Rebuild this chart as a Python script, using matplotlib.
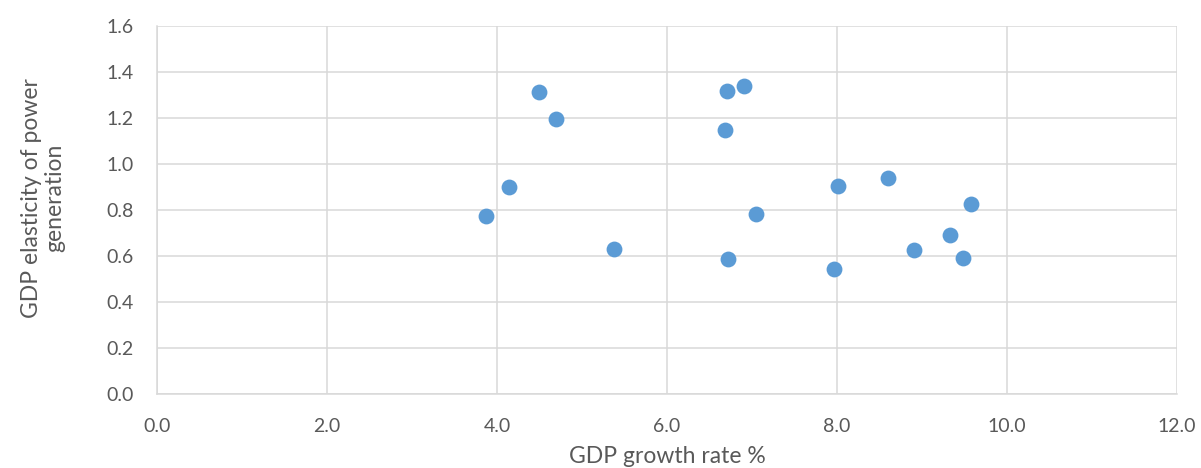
import matplotlib
matplotlib.use("Agg")
import matplotlib.pyplot as plt

gdp_growth = [3.87, 4.14, 4.49, 4.69, 5.38, 6.70, 6.90, 6.68, 7.05, 6.72,
              8.01, 8.60, 9.58, 9.33, 8.91, 9.48, 7.97]
elasticity = [0.776, 0.900, 1.315, 1.197, 0.632, 1.316, 1.338, 1.147, 0.784, 0.589,
              0.903, 0.937, 0.825, 0.691, 0.628, 0.591, 0.542]
x_ticks = [0, 2, 4, 6, 8, 10, 12]
y_ticks = [0.0, 0.2, 0.4, 0.6, 0.8, 1.0, 1.2, 1.4, 1.6]

plt.rcParams['font.family'] = ['Lato', 'DejaVu Sans']

W, H = 1201, 468
fig = plt.figure(figsize=(W / 100, H / 100), dpi=100)
left, right, top, bottom = 157, 1177, 26, 394
ax = fig.add_axes([left / W, (H - bottom) / H, (right - left) / W, (bottom - top) / H])

grid_c = '#D9D9D9'
ax.set_xlim(0, 12)
ax.set_ylim(0, 1.6)
ax.set_xticks(x_ticks)
ax.set_yticks(y_ticks)
ax.set_xticklabels([f"{v:.1f}" for v in x_ticks])
ax.set_yticklabels([f"{v:.1f}" for v in y_ticks])
ax.grid(True, color=grid_c, linewidth=1.1)
ax.set_axisbelow(True)
for s in ['top', 'right']:
    ax.spines[s].set_visible(False)
for s in ['left', 'bottom']:
    ax.spines[s].set_color(grid_c)
    ax.spines[s].set_linewidth(1.1)
ax.tick_params(length=0, labelsize=14, colors='#595959')
ax.tick_params(axis='y', pad=17)
ax.tick_params(axis='x', pad=17)

ax.scatter(gdp_growth, elasticity, s=130, color='#5B9BD5', zorder=3, linewidths=0)

fig.text(43 / W, 1 - 198 / H, "GDP elasticity of power\ngeneration", rotation=90,
         ha='center', va='center', fontsize=16.5, color='#595959', multialignment='center',
         linespacing=1.1)
fig.text(667 / W, 1 - 463 / H, "GDP growth rate %", ha='center', va='baseline',
         fontsize=16.5, color='#595959')

fig.savefig('out.png', dpi=100)
